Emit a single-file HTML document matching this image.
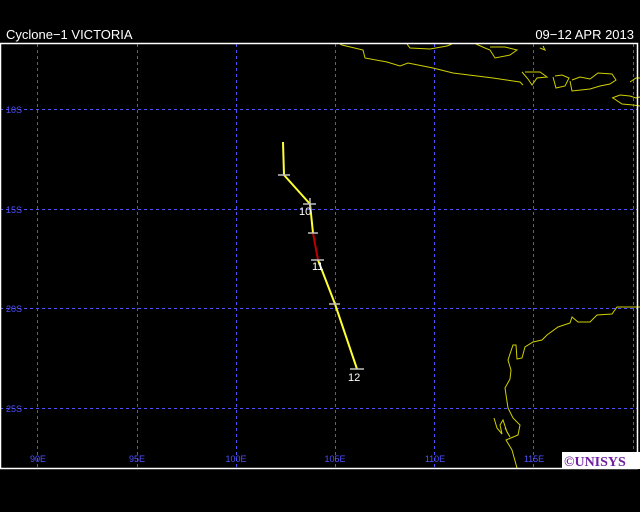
<!DOCTYPE html>
<html><head><meta charset="utf-8"><style>
html,body{margin:0;padding:0;background:#000;width:640px;height:512px;overflow:hidden}
svg{display:block}
</style></head><body>
<svg width="640" height="512" viewBox="0 0 640 512" xmlns="http://www.w3.org/2000/svg">
<rect width="640" height="512" fill="#000"/>
<text x="6" y="39" fill="#fff" font-family="Liberation Sans, sans-serif" font-size="13">Cyclone−1 VICTORIA</text>
<text x="634" y="39" fill="#fff" font-family="Liberation Sans, sans-serif" font-size="13" text-anchor="end">09−12 APR 2013</text>
<g stroke="#5050ff" stroke-width="1" stroke-dasharray="3,3" fill="none">
<line x1="37.5" y1="44" x2="37.5" y2="468"/>
<line x1="137.5" y1="44" x2="137.5" y2="468"/>
<line x1="236.5" y1="44" x2="236.5" y2="468"/>
<line x1="335.5" y1="44" x2="335.5" y2="468"/>
<line x1="434.5" y1="44" x2="434.5" y2="468"/>
<line x1="533.5" y1="44" x2="533.5" y2="468"/>
<line x1="633.5" y1="44" x2="633.5" y2="468"/>
<line x1="0" y1="109.5" x2="638" y2="109.5"/>
<line x1="0" y1="209.5" x2="638" y2="209.5"/>
<line x1="0" y1="308.5" x2="638" y2="308.5"/>
<line x1="0" y1="408.5" x2="638" y2="408.5"/>
</g>
<g fill="#5050ff" font-family="Liberation Sans, sans-serif" font-size="9">
<text x="6" y="113">10S</text><text x="6" y="213">15S</text><text x="6" y="312">20S</text><text x="6" y="412">25S</text>
<g text-anchor="middle"><text x="38" y="462">90E</text><text x="137" y="462">95E</text><text x="236" y="462">100E</text><text x="335" y="462">105E</text><text x="435" y="462">110E</text><text x="534" y="462">115E</text></g>
</g>
<g stroke="#d0d000" stroke-width="1" fill="none">
<polyline points="340,44 342,45 363,50 365,58 387,62 400,66 408,63 433,68 453,73 493,78 520,82 523,85"/>
<polyline points="407,44 410,48 430,49 447,46 452,44"/>
<polyline points="476,44 485,48 490,50 495,58 510,55 517,50 505,47 490,47"/>
<polyline points="522,72 528,79 532,85 537,78 547,77 540,72 530,72 525,72"/>
<polyline points="553,77 556,88 565,86 569,78 562,75 555,76"/>
<polyline points="570,81 572,91 590,89 600,86 610,84 616,80 612,74 598,73 590,79 580,77 572,80"/>
<polyline points="613,98 622,104 633,105 640,106"/>
<polyline points="612,98 620,95 630,96 636,98 640,97"/>
<polyline points="630,82 636,78 640,78"/>
<polyline points="540,48 545,50 543,46"/>
<polyline points="640,307 617,307 612,314 597,315 590,322 578,322 572,317 570,323 558,327 547,335 542,340 533,342 525,347 522,358 517,359 516,345 513,345 508,360 511,370 510,379 505,388 508,408 513,418 520,425 518,435 506,440 512,450 517,468"/>
<polyline points="494,418 497,428 502,434 500,425 503,420 507,432 510,437 505,428"/>
</g>
<rect x="0.5" y="43.5" width="637" height="425" fill="none" stroke="#fff" stroke-width="1.5"/>
<g fill="none" stroke-width="2">
<polyline stroke="#ffff30" points="283,142 284,175 310,204 313,233"/>
<polyline stroke="#c00000" points="313,233 318,260"/>
<polyline stroke="#ffff30" points="318,260 335,304 357,369"/>
</g>
<g stroke="#c0c0c0" stroke-width="1.5">
<line x1="278" y1="175" x2="290" y2="175"/>
<line x1="303" y1="204" x2="316" y2="204"/><line x1="310" y1="198" x2="310" y2="210"/>
<line x1="308" y1="233" x2="318" y2="233"/>
<line x1="311" y1="260" x2="324" y2="260"/>
<line x1="329" y1="304" x2="340" y2="304"/>
<line x1="350" y1="369" x2="364" y2="369"/>
</g>
<g fill="#fff" font-family="Liberation Sans, sans-serif" font-size="11">
<text x="299" y="215">10</text><text x="312" y="270">11</text><text x="348" y="381">12</text>
</g>
<rect x="562" y="452" width="78" height="17" fill="#fff"/>
<text x="564" y="466" fill="#7020a0" font-family="Liberation Serif, serif" font-size="14" font-weight="bold">©UNISYS</text>
</svg>
</body></html>
